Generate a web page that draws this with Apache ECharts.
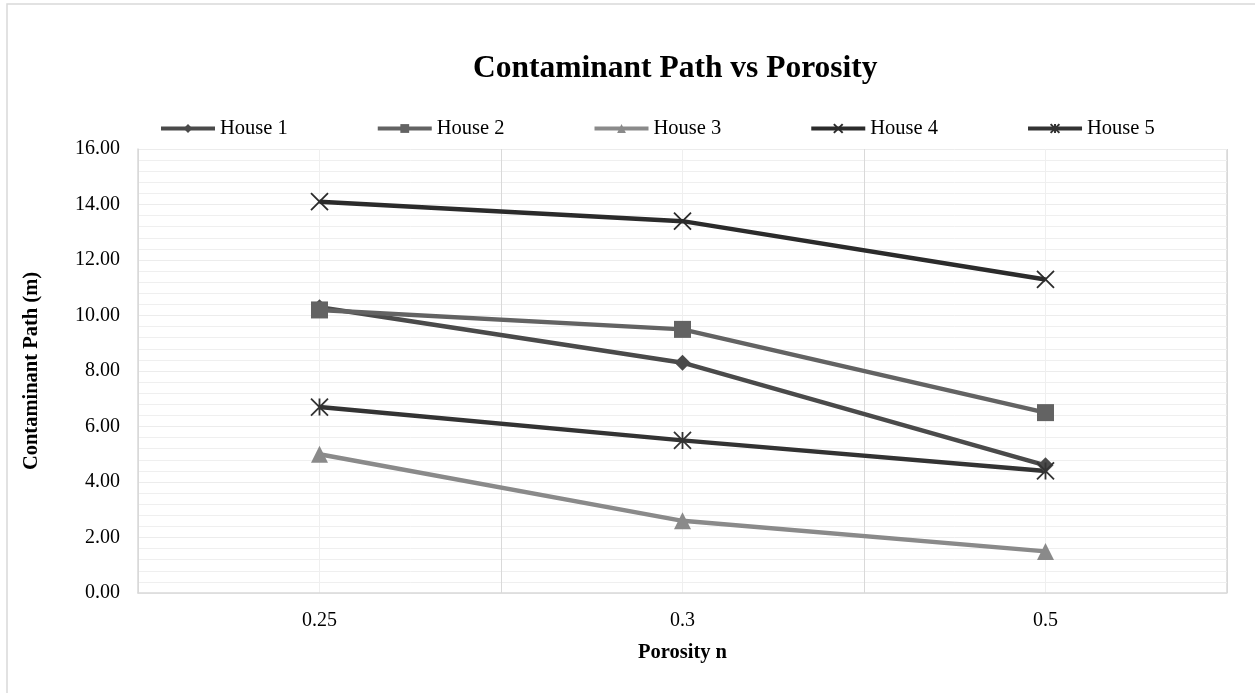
<!DOCTYPE html>
<html>
<head>
<meta charset="utf-8">
<script src="https://cdn.jsdelivr.net/npm/echarts@6/dist/echarts.min.js"></script>
<style>
  html, body { margin: 0; padding: 0; background: #ffffff; }
  #chart { width: 1255px; height: 693px; }
</style>
</head>
<body>
<div id="chart"></div>
<script>
// Porosity values along the horizontal axis
const porosity = ['0.25', '0.3', '0.5'];

// Contaminant path length (m) for each house
const house1 = [10.3, 8.3, 4.6];
const house2 = [10.2, 9.5, 6.5];
const house3 = [5.0, 2.6, 1.5];
const house4 = [14.1, 13.4, 11.3];
const house5 = [6.7, 5.5, 4.4];

const seriesNames = ['House 1', 'House 2', 'House 3', 'House 4', 'House 5'];

const serif = '"Liberation Serif", "Times New Roman", serif';

// Marker shapes
const crossPath = 'path://M0,0L10,10M10,0L0,10';
const starPath = 'path://M0,0L10,10M10,0L0,10M5,0L5,10';

function lineSeries(name, data, color, symbol, size, hollow) {
  return {
    name: name,
    type: 'line',
    xAxisIndex: 0,
    data: data,
    symbol: symbol,
    symbolSize: size,
    showSymbol: true,
    lineStyle: { color: color, width: 4.5 },
    itemStyle: hollow
      ? { color: 'rgba(0,0,0,0)', borderColor: color, borderWidth: 1.8 }
      : { color: color, borderColor: color, borderWidth: 0 },
    emphasis: { disabled: true },
    z: 3
  };
}

const chart = echarts.init(document.getElementById('chart'), null, { renderer: 'canvas' });

chart.setOption({
  animation: false,
  backgroundColor: '#ffffff',
  title: {
    text: 'Contaminant Path vs Porosity',
    left: 468,
    top: 48,
    textStyle: { fontFamily: serif, fontWeight: 'bold', fontSize: 31.5, color: '#000000' }
  },
  legend: {
    top: 113,
    left: 154,
    itemWidth: 54,
    itemHeight: 11,
    itemGap: 88,
    data: seriesNames,
    lineStyle: { width: 4 },
    textStyle: { fontFamily: serif, fontSize: 20.5, color: '#000000' }
  },
  grid: { left: 138, right: 28, top: 149, bottom: 100, containLabel: false },
  xAxis: [
    {
      type: 'category',
      data: porosity,
      boundaryGap: true,
      axisLine: { show: true, lineStyle: { color: '#d9d9d9', width: 1.5 } },
      axisTick: { show: false },
      axisLabel: { fontFamily: serif, fontSize: 20, color: '#000000', margin: 18 },
      splitLine: { show: false },
      name: 'Porosity n',
      nameLocation: 'middle',
      nameGap: 49,
      nameTextStyle: { fontFamily: serif, fontWeight: 'bold', fontSize: 20.5, color: '#000000' }
    },
    {
      // background grid: boundary lines between categories and centre lines
      type: 'value',
      min: 0,
      max: 3,
      interval: 1,
      position: 'bottom',
      show: true,
      axisLine: { show: false },
      axisTick: { show: false },
      axisLabel: { show: false },
      splitLine: { show: true, lineStyle: { color: '#d9d9d9', width: 1 } },
      minorTick: { show: false, splitNumber: 2 },
      minorSplitLine: { show: true, lineStyle: { color: '#efefef', width: 1 } }
    }
  ],
  yAxis: {
    type: 'value',
    min: 0,
    max: 16,
    interval: 2,
    axisLine: { show: true, lineStyle: { color: '#d9d9d9', width: 1.5 } },
    axisTick: { show: false },
    axisLabel: {
      fontFamily: serif, fontSize: 20, color: '#000000', margin: 18,
      formatter: v => v.toFixed(2)
    },
    splitLine: { show: true, lineStyle: { color: '#ececec', width: 1 } },
    minorTick: { show: false, splitNumber: 5 },
    minorSplitLine: { show: true, lineStyle: { color: '#efefef', width: 1 } },
    name: 'Contaminant Path (m)',
    nameLocation: 'middle',
    nameRotate: 90,
    nameGap: 96,
    nameTextStyle: { fontFamily: serif, fontWeight: 'bold', fontSize: 20.5, color: '#000000' }
  },
  graphic: [
    {
      type: 'rect',
      shape: { x: 7, y: 4, width: 1270, height: 710 },
      style: { fill: 'none', stroke: '#d9d9d9', lineWidth: 1.5 },
      silent: true
    },
    {
      type: 'line',
      shape: { x1: 1227, y1: 149, x2: 1227, y2: 593 },
      style: { stroke: '#d9d9d9', lineWidth: 1.5 },
      silent: true
    }
  ],
  series: [
    lineSeries('House 1', house1, '#4a4a4a', 'diamond', 16, false),
    lineSeries('House 2', house2, '#636363', 'rect', 17, false),
    lineSeries('House 3', house3, '#8a8a8a', 'triangle', 17, false),
    lineSeries('House 4', house4, '#2b2b2b', crossPath, 17, true),
    lineSeries('House 5', house5, '#333333', starPath, 17, true)
  ]
});
</script>
</body>
</html>
